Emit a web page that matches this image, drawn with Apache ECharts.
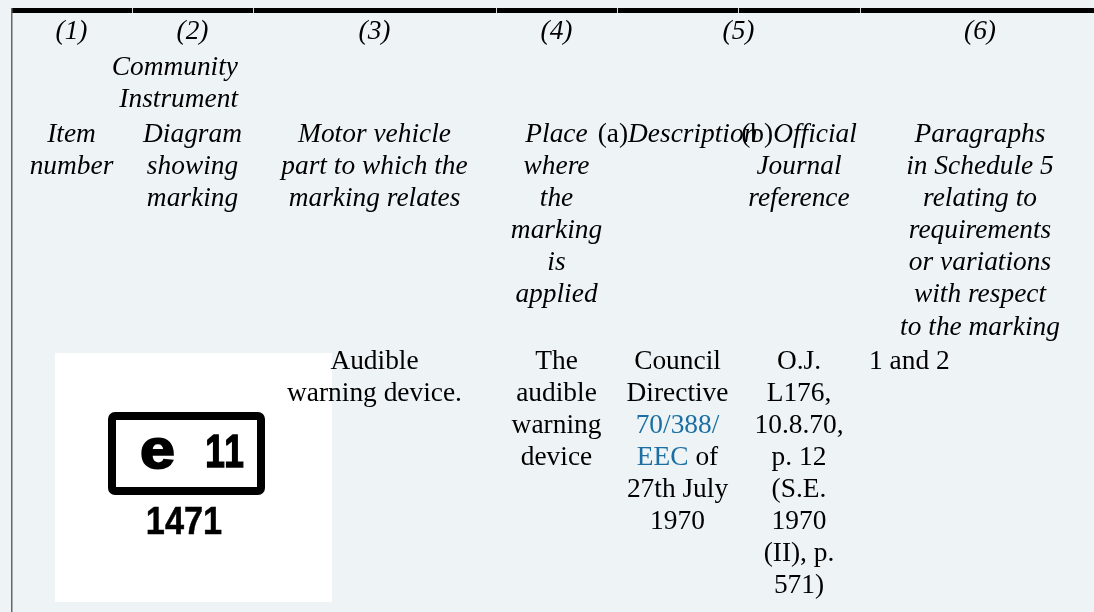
<!DOCTYPE html>
<html><head><meta charset="utf-8">
<script src="https://cdn.jsdelivr.net/npm/echarts@6/dist/echarts.min.js"></script>
<style>html,body{margin:0;padding:0;background:#eef4f5;overflow:hidden}#c{width:1094px;height:612px}</style>
</head><body><div id="c"></div>
<script>
// ---- table content ----
const columnNumbers = ['(1)', '(2)', '(3)', '(4)', '(5)', '(6)'];
const instrumentHeading = ['Community', 'Instrument'];
const headingLabels = [
  ['Item', 'number'],
  ['Diagram', 'showing', 'marking'],
  ['Motor vehicle', 'part to which the', 'marking relates'],
  ['Place', 'where', 'the', 'marking', 'is', 'applied'],
  ['{u|(a)}{i|Description}'],
  ['{u|(b)}{i|Official}', 'Journal', 'reference'],
  ['Paragraphs', 'in Schedule 5', 'relating to', 'requirements', 'or variations', 'with respect', 'to the marking']
];
const markingSymbol = 'e';
const markingCountry = ['1', '1'];
const markingNumber = '1471';
const rowCells = [
  [],
  [],
  ['Audible', 'warning device.'],
  ['The', 'audible', 'warning', 'device'],
  ['Council', 'Directive', '{l|70/388/}', '{l|EEC} of', '27th July', '1970'],
  ['O.J.', 'L176,', '10.8.70,', 'p. 12', '(S.E.', '1970', '(II), p.', '571)'],
  ['1 and 2']
];

// ---- layout ----
const W = 1094, H = 612;
const edges = [11, 132, 253, 496, 617, 738, 860, 1100];
const centers = edges.slice(0, -1).map((e, i) => (e + edges[i + 1]) / 2);
const FS = 27.4;
const SERIF = '"Liberation Serif", "Times New Roman", serif';
const SANS = '"Liberation Sans", Arial, sans-serif';
const K_SERIF = 0.3375, K_SANS = 0.3465;
const BLUE = '#1b6fa3';

function richStyles(italic) {
  const base = {fontFamily: SERIF, fontSize: FS, fill: '#000'};
  return {
    u: Object.assign({}, base, {fontStyle: 'normal'}),
    i: Object.assign({}, base, {fontStyle: 'italic'}),
    l: Object.assign({}, base, {fontStyle: italic ? 'italic' : 'normal', fill: BLUE})
  };
}
function line(x, baseline, str, italic, align) {
  return {
    type: 'text', x: x, y: baseline - K_SERIF * FS, silent: true, z: 10,
    style: {
      text: str, fontFamily: SERIF, fontSize: FS, fontStyle: italic ? 'italic' : 'normal',
      fill: '#000', align: align || 'center', verticalAlign: 'middle', rich: richStyles(italic)
    }
  };
}

const els = [];
// top rule
els.push({type: 'rect', shape: {x: 11, y: 8, width: W - 11, height: 5}, style: {fill: '#000'}, silent: true});
edges.slice(1, -1).forEach(e => els.push({type: 'rect', shape: {x: e, y: 8, width: 1, height: 5}, style: {fill: '#d4d8d9'}, silent: true}));
// left rule
els.push({type: 'rect', shape: {x: 11, y: 8, width: 1.5, height: H - 8}, style: {fill: '#666'}, silent: true});

// column numbers
const numCenters = [centers[0], centers[1], centers[2], centers[3], (edges[4] + edges[6]) / 2, centers[6]];
columnNumbers.forEach((t, i) => els.push(line(numCenters[i], 41, t, true)));
// community instrument
instrumentHeading.forEach((t, i) => els.push(line(238, 77 + i * 32, t, true, 'right')));
// heading labels
headingLabels.forEach((lines, c) => lines.forEach((t, k) => els.push(line(centers[c], 144 + k * 32.1, t, true))));

// diagram
els.push({type: 'rect', shape: {x: 55, y: 353, width: 277, height: 249}, style: {fill: '#fff'}, silent: true, z: 1});
els.push({type: 'rect', shape: {x: 112, y: 416, width: 149, height: 75, r: 3}, style: {fill: '#fff', stroke: '#000', lineWidth: 8}, silent: true, z: 2});
function mark(x, baseline, str, fs, sx, sw) {
  return {type: 'text', x: x, y: baseline - K_SANS * fs, scaleX: sx, silent: true, z: 3,
    style: {text: str, fontFamily: SANS, fontWeight: 'bold', fontSize: fs, fill: '#000',
      stroke: '#000', lineWidth: sw, align: 'center', verticalAlign: 'middle'}};
}
els.push(mark(157.5, 472, markingSymbol, 56, 1.12, 2));
markingCountry.forEach((d, i) => els.push(mark(215 + i * 19, 470, d, 47, 0.75, 1.5)));
els.push(mark(184, 536.5, markingNumber, 39, 0.88, 0.5));

// data row
rowCells.forEach((lines, c) => lines.forEach((t, k) => {
  if (c === 6) els.push(line(869, 371 + k * 32, t, false, 'left'));
  else els.push(line(centers[c], 371 + k * 32, t, false));
}));

const chart = echarts.init(document.getElementById('c'), null, {renderer: 'canvas', width: W, height: H});
chart.setOption({backgroundColor: '#eef4f5', animation: false, graphic: {elements: els}});
</script></body></html>
